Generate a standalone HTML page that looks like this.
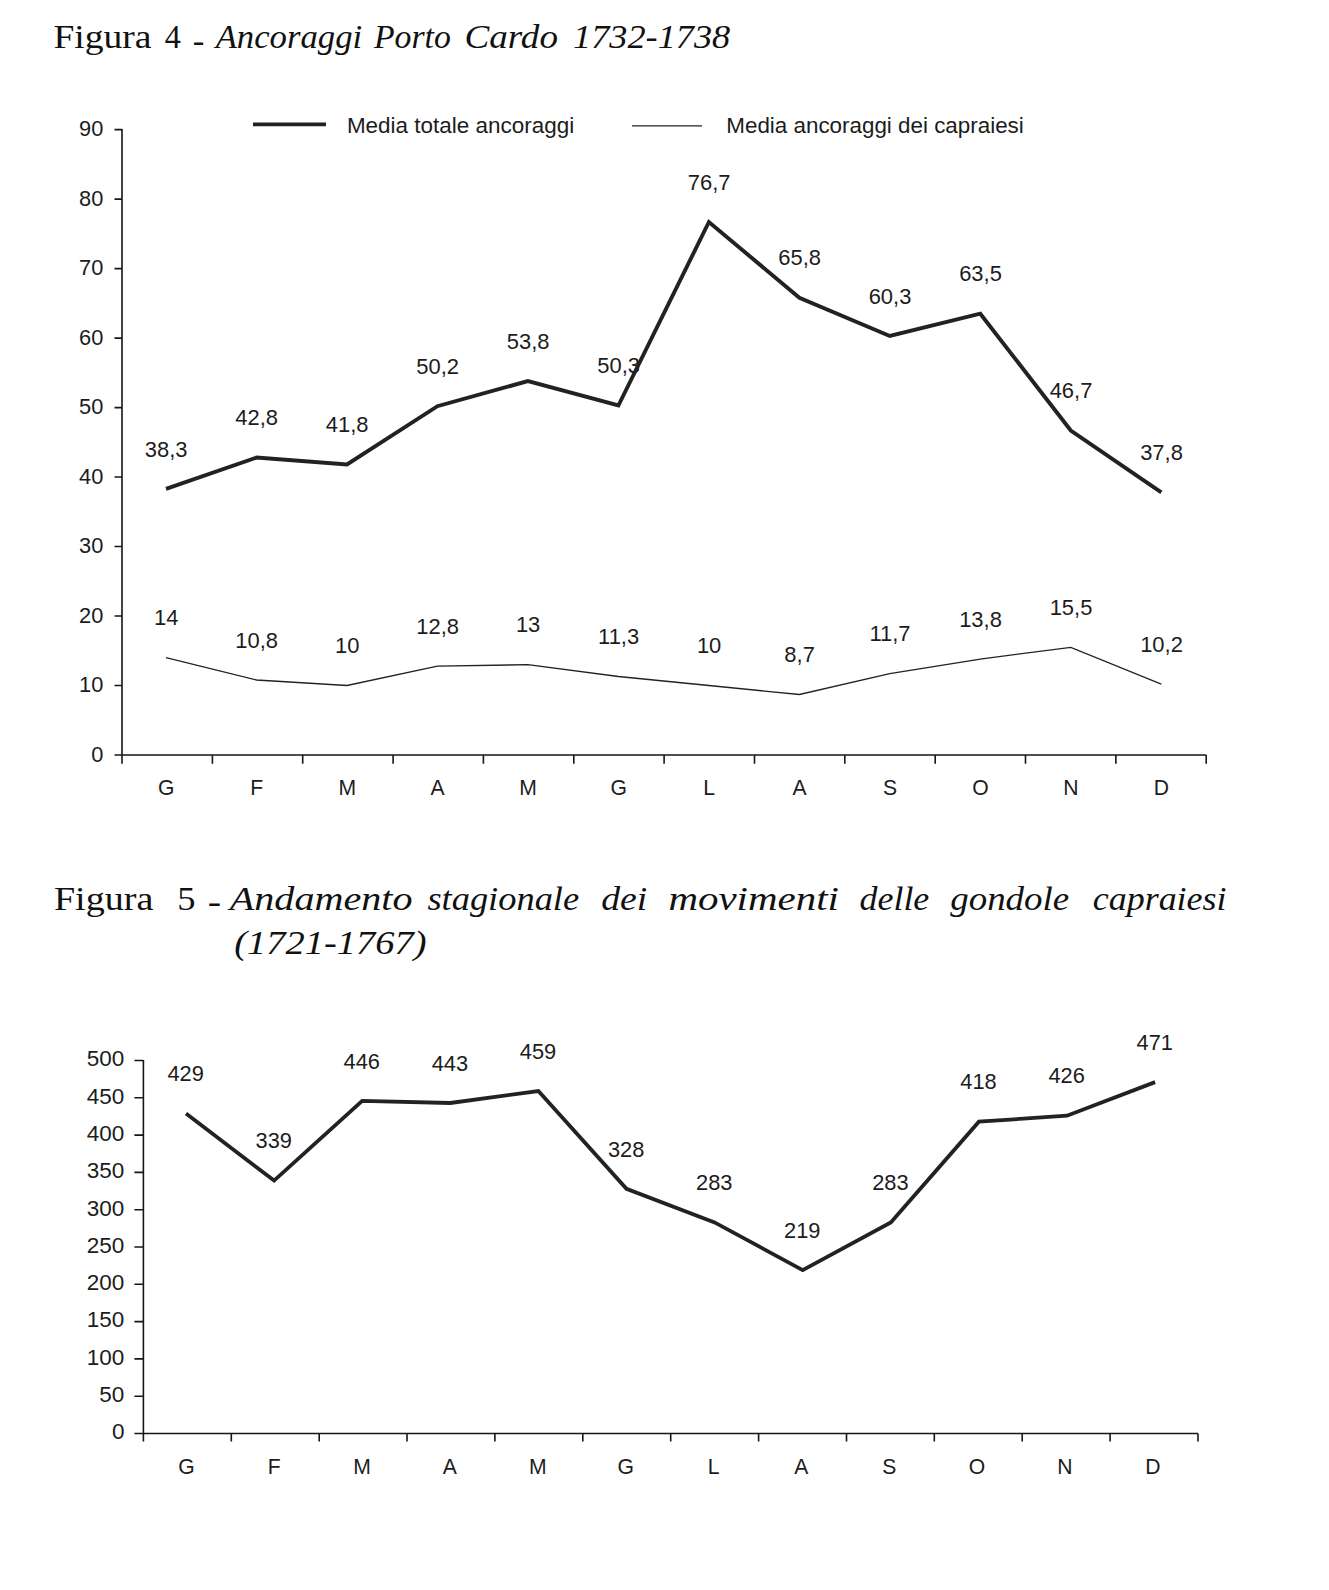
<!DOCTYPE html>
<html lang="it"><head><meta charset="utf-8"><title>Figura 4 e 5</title>
<style>
html,body{margin:0;padding:0;background:#fff}
body{width:1329px;height:1590px;overflow:hidden}
svg{display:block}
.t text{font-family:"Liberation Sans",sans-serif;font-size:22.5px;fill:#1c1c1c}
.s text{font-family:"Liberation Serif",serif;font-size:34.0px;fill:#111}
.i{font-style:italic}
</style></head><body>
<svg width="1329" height="1590" viewBox="0 0 1329 1590">
<rect width="1329" height="1590" fill="#fff"/>
<g stroke="#161616" stroke-width="1.6" fill="none">
<path d="M122.0 129.0V755.0H1206.2"/>
<path d="M114.5 755.0H122.0M114.5 685.5H122.0M114.5 616.0H122.0M114.5 546.5H122.0M114.5 477.0H122.0M114.5 407.6H122.0M114.5 338.1H122.0M114.5 268.6H122.0M114.5 199.1H122.0M114.5 129.6H122.0M122.0 755.0V763.8M212.4 755.0V763.8M302.7 755.0V763.8M393.1 755.0V763.8M483.4 755.0V763.8M573.8 755.0V763.8M664.1 755.0V763.8M754.5 755.0V763.8M844.8 755.0V763.8M935.2 755.0V763.8M1025.5 755.0V763.8M1115.9 755.0V763.8M1206.2 755.0V763.8"/>
</g>
<g class="t">
<text transform="translate(103.4 761.5) scale(0.97 1)" text-anchor="end">0</text>
<text transform="translate(103.4 692.0) scale(0.97 1)" text-anchor="end">10</text>
<text transform="translate(103.4 622.5) scale(0.97 1)" text-anchor="end">20</text>
<text transform="translate(103.4 553.0) scale(0.97 1)" text-anchor="end">30</text>
<text transform="translate(103.4 483.5) scale(0.97 1)" text-anchor="end">40</text>
<text transform="translate(103.4 414.1) scale(0.97 1)" text-anchor="end">50</text>
<text transform="translate(103.4 344.6) scale(0.97 1)" text-anchor="end">60</text>
<text transform="translate(103.4 275.1) scale(0.97 1)" text-anchor="end">70</text>
<text transform="translate(103.4 205.6) scale(0.97 1)" text-anchor="end">80</text>
<text transform="translate(103.4 136.1) scale(0.97 1)" text-anchor="end">90</text>
<text transform="translate(166.2 795.1) scale(0.94 1)" text-anchor="middle">G</text>
<text transform="translate(256.7 795.1) scale(0.94 1)" text-anchor="middle">F</text>
<text transform="translate(347.2 795.1) scale(0.94 1)" text-anchor="middle">M</text>
<text transform="translate(437.6 795.1) scale(0.94 1)" text-anchor="middle">A</text>
<text transform="translate(528.1 795.1) scale(0.94 1)" text-anchor="middle">M</text>
<text transform="translate(618.6 795.1) scale(0.94 1)" text-anchor="middle">G</text>
<text transform="translate(709.1 795.1) scale(0.94 1)" text-anchor="middle">L</text>
<text transform="translate(799.6 795.1) scale(0.94 1)" text-anchor="middle">A</text>
<text transform="translate(890.0 795.1) scale(0.94 1)" text-anchor="middle">S</text>
<text transform="translate(980.5 795.1) scale(0.94 1)" text-anchor="middle">O</text>
<text transform="translate(1071.0 795.1) scale(0.94 1)" text-anchor="middle">N</text>
<text transform="translate(1161.5 795.1) scale(0.94 1)" text-anchor="middle">D</text>
<text transform="translate(166.2 456.5) scale(0.975 1)" text-anchor="middle">38,3</text>
<text transform="translate(166.2 625.3) scale(0.975 1)" text-anchor="middle">14</text>
<text transform="translate(256.7 425.2) scale(0.975 1)" text-anchor="middle">42,8</text>
<text transform="translate(256.7 647.6) scale(0.975 1)" text-anchor="middle">10,8</text>
<text transform="translate(347.2 432.1) scale(0.975 1)" text-anchor="middle">41,8</text>
<text transform="translate(347.2 653.1) scale(0.975 1)" text-anchor="middle">10</text>
<text transform="translate(437.6 373.8) scale(0.975 1)" text-anchor="middle">50,2</text>
<text transform="translate(437.6 633.7) scale(0.975 1)" text-anchor="middle">12,8</text>
<text transform="translate(528.1 348.7) scale(0.975 1)" text-anchor="middle">53,8</text>
<text transform="translate(528.1 632.3) scale(0.975 1)" text-anchor="middle">13</text>
<text transform="translate(618.6 373.1) scale(0.975 1)" text-anchor="middle">50,3</text>
<text transform="translate(618.6 644.1) scale(0.975 1)" text-anchor="middle">11,3</text>
<text transform="translate(709.1 189.6) scale(0.975 1)" text-anchor="middle">76,7</text>
<text transform="translate(709.1 653.1) scale(0.975 1)" text-anchor="middle">10</text>
<text transform="translate(799.6 265.4) scale(0.975 1)" text-anchor="middle">65,8</text>
<text transform="translate(799.6 662.1) scale(0.975 1)" text-anchor="middle">8,7</text>
<text transform="translate(890.0 303.6) scale(0.975 1)" text-anchor="middle">60,3</text>
<text transform="translate(890.0 641.3) scale(0.975 1)" text-anchor="middle">11,7</text>
<text transform="translate(980.5 281.3) scale(0.975 1)" text-anchor="middle">63,5</text>
<text transform="translate(980.5 626.7) scale(0.975 1)" text-anchor="middle">13,8</text>
<text transform="translate(1071.0 398.1) scale(0.975 1)" text-anchor="middle">46,7</text>
<text transform="translate(1071.0 614.9) scale(0.975 1)" text-anchor="middle">15,5</text>
<text transform="translate(1161.5 459.9) scale(0.975 1)" text-anchor="middle">37,8</text>
<text transform="translate(1161.5 651.7) scale(0.975 1)" text-anchor="middle">10,2</text>
<text transform="translate(346.9 132.6) scale(0.999 1)">Media totale ancoraggi</text>
<text transform="translate(726.3 132.6) scale(0.9957 1)">Media ancoraggi dei capraiesi</text>
</g>
<path d="M253 124.3H326" stroke="#222222" stroke-width="3.8" fill="none"/>
<path d="M632 125.8H702" stroke="#222222" stroke-width="1.3" fill="none"/>
<polyline points="166.0,488.9 256.5,457.6 347.0,464.5 437.4,406.2 527.9,381.1 618.4,405.5 708.9,222.0 799.4,297.8 889.8,336.0 980.3,313.7 1070.8,430.5 1161.3,492.3" fill="none" stroke="#222222" stroke-width="3.9" stroke-linejoin="miter"/>
<polyline points="166.0,657.7 256.5,680.0 347.0,685.5 437.4,666.1 527.9,664.7 618.4,676.5 708.9,685.5 799.4,694.5 889.8,673.7 980.3,659.1 1070.8,647.3 1161.3,684.1" fill="none" stroke="#222222" stroke-width="1.3"/>
<g stroke="#161616" stroke-width="1.6" fill="none">
<path d="M143.4 1059.9V1433.5H1198.0"/>
<path d="M134.4 1433.5H143.4M134.4 1396.2H143.4M134.4 1358.9H143.4M134.4 1321.6H143.4M134.4 1284.3H143.4M134.4 1247.0H143.4M134.4 1209.7H143.4M134.4 1172.4H143.4M134.4 1135.1H143.4M134.4 1097.8H143.4M134.4 1060.5H143.4M143.4 1433.5V1441.5M231.3 1433.5V1441.5M319.2 1433.5V1441.5M407.0 1433.5V1441.5M494.9 1433.5V1441.5M582.8 1433.5V1441.5M670.7 1433.5V1441.5M758.6 1433.5V1441.5M846.5 1433.5V1441.5M934.3 1433.5V1441.5M1022.2 1433.5V1441.5M1110.1 1433.5V1441.5M1198.0 1433.5V1441.5"/>
</g>
<g class="t">
<text x="124.4" y="1439.3" text-anchor="end">0</text>
<text x="124.4" y="1402.0" text-anchor="end">50</text>
<text x="124.4" y="1364.7" text-anchor="end">100</text>
<text x="124.4" y="1327.4" text-anchor="end">150</text>
<text x="124.4" y="1290.1" text-anchor="end">200</text>
<text x="124.4" y="1252.8" text-anchor="end">250</text>
<text x="124.4" y="1215.5" text-anchor="end">300</text>
<text x="124.4" y="1178.2" text-anchor="end">350</text>
<text x="124.4" y="1140.9" text-anchor="end">400</text>
<text x="124.4" y="1103.6" text-anchor="end">450</text>
<text x="124.4" y="1066.3" text-anchor="end">500</text>
<text transform="translate(186.4 1474.2) scale(0.94 1)" text-anchor="middle">G</text>
<text transform="translate(274.2 1474.2) scale(0.94 1)" text-anchor="middle">F</text>
<text transform="translate(362.1 1474.2) scale(0.94 1)" text-anchor="middle">M</text>
<text transform="translate(449.9 1474.2) scale(0.94 1)" text-anchor="middle">A</text>
<text transform="translate(537.8 1474.2) scale(0.94 1)" text-anchor="middle">M</text>
<text transform="translate(625.6 1474.2) scale(0.94 1)" text-anchor="middle">G</text>
<text transform="translate(713.5 1474.2) scale(0.94 1)" text-anchor="middle">L</text>
<text transform="translate(801.3 1474.2) scale(0.94 1)" text-anchor="middle">A</text>
<text transform="translate(889.2 1474.2) scale(0.94 1)" text-anchor="middle">S</text>
<text transform="translate(977.0 1474.2) scale(0.94 1)" text-anchor="middle">O</text>
<text transform="translate(1064.9 1474.2) scale(0.94 1)" text-anchor="middle">N</text>
<text transform="translate(1152.8 1474.2) scale(0.94 1)" text-anchor="middle">D</text>
<text transform="translate(185.6 1081.2) scale(0.97 1)" text-anchor="middle">429</text>
<text transform="translate(273.7 1148.3) scale(0.97 1)" text-anchor="middle">339</text>
<text transform="translate(361.8 1068.5) scale(0.97 1)" text-anchor="middle">446</text>
<text transform="translate(449.9 1070.7) scale(0.97 1)" text-anchor="middle">443</text>
<text transform="translate(538.0 1058.8) scale(0.97 1)" text-anchor="middle">459</text>
<text transform="translate(626.1 1156.5) scale(0.97 1)" text-anchor="middle">328</text>
<text transform="translate(714.2 1190.1) scale(0.97 1)" text-anchor="middle">283</text>
<text transform="translate(802.3 1237.8) scale(0.97 1)" text-anchor="middle">219</text>
<text transform="translate(890.4 1190.1) scale(0.97 1)" text-anchor="middle">283</text>
<text transform="translate(978.5 1089.4) scale(0.97 1)" text-anchor="middle">418</text>
<text transform="translate(1066.6 1083.4) scale(0.97 1)" text-anchor="middle">426</text>
<text transform="translate(1154.7 1049.8) scale(0.97 1)" text-anchor="middle">471</text>
</g>
<polyline points="186.0,1113.5 274.1,1180.6 362.2,1100.8 450.3,1103.0 538.4,1091.1 626.5,1188.8 714.6,1222.4 802.7,1270.1 890.8,1222.4 978.9,1121.7 1067.0,1115.7 1155.1,1082.1" fill="none" stroke="#222222" stroke-width="3.8" stroke-linejoin="miter"/>
<g class="s" aria-label="Figura 4 - Ancoraggi Porto Cardo 1732-1738; Figura 5 - Andamento stagionale dei movimenti delle gondole capraiesi (1721-1767)">
<text transform="translate(53.49 48.0) scale(1.1046 1)">Figura</text>
<text transform="translate(164.83 48.0) scale(0.9448 1)">4</text>
<text transform="translate(192.70 51.5) scale(1.0243 1)">-</text>
<text transform="translate(215.63 48.0) scale(1.0215 1)" class="i">Ancoraggi</text>
<text transform="translate(373.99 48.0) scale(0.9924 1)" class="i">Porto</text>
<text transform="translate(464.41 48.0) scale(1.0928 1)" class="i">Cardo</text>
<text transform="translate(573.08 48.0) scale(1.0670 1)" class="i">1732-1738</text>
<text transform="translate(53.93 909.5) scale(1.1194 1)">Figura</text>
<text transform="translate(177.26 909.5) scale(1.0714 1)">5</text>
<text transform="translate(207.74 913.0) scale(1.1791 1)">-</text>
<text transform="translate(229.77 909.5) scale(1.1802 1)" class="i">Andamento</text>
<text transform="translate(427.40 909.5) scale(1.0716 1)" class="i">stagionale</text>
<text transform="translate(601.23 909.5) scale(1.1107 1)" class="i">dei</text>
<text transform="translate(668.38 909.5) scale(1.2043 1)" class="i">movimenti</text>
<text transform="translate(859.50 909.5) scale(1.0564 1)" class="i">delle</text>
<text transform="translate(950.18 909.5) scale(1.0872 1)" class="i">gondole</text>
<text transform="translate(1092.75 909.5) scale(1.0576 1)" class="i">capraiesi</text>
<text transform="translate(234.22 954.2) scale(1.1316 1)" class="i">(1721-1767)</text>
</g>
</svg>
</body></html>
